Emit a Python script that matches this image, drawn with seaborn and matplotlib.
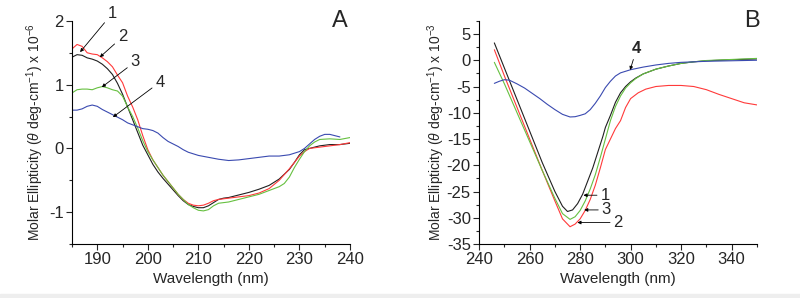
import numpy as np
import pandas as pd
import matplotlib.pyplot as plt
import seaborn as sns
from matplotlib.ticker import MultipleLocator

sns.set_style("ticks")
plt.rcParams['font.family'] = ['Liberation Sans', 'DejaVu Sans']
plt.rcParams['mathtext.fontset'] = 'custom'
plt.rcParams['mathtext.it'] = 'Liberation Sans:italic'
plt.rcParams['mathtext.rm'] = 'Liberation Sans'
plt.rcParams['axes.unicode_minus'] = False

# ---- panel A (far UV) ----
a_wl_1 = [185, 186, 187, 188, 189, 190, 191, 192, 193, 194, 195, 196, 197, 198, 199, 200, 201, 202, 203, 204,
          205, 206, 207, 208, 209, 210, 211, 212, 213, 214, 215, 216, 218, 220, 222, 224, 226, 228, 229, 230,
          231, 232, 234, 236, 238, 240]
a_val_1 = [1.43, 1.47, 1.46, 1.42, 1.40, 1.37, 1.32, 1.25, 1.16, 1.02, 0.85, 0.65, 0.45, 0.25, 0.05, -0.10, -0.25,
           -0.37, -0.47, -0.56, -0.65, -0.74, -0.82, -0.88, -0.91, -0.93, -0.93, -0.90, -0.85, -0.80, -0.78, -0.77,
           -0.73, -0.69, -0.64, -0.58, -0.48, -0.33, -0.22, -0.10, -0.02, 0.00, 0.04, 0.06, 0.06, 0.08]
a_wl_2 = [185, 186, 187, 188, 189, 190, 191, 192, 193, 194, 195, 196, 197, 198, 199, 200, 201, 202, 203, 204,
          205, 206, 207, 208, 209, 210, 211, 212, 213, 214, 215, 216, 218, 220, 222, 224, 226, 228, 230, 231,
          232, 234, 236, 238, 240]
a_val_2 = [1.56, 1.63, 1.60, 1.50, 1.48, 1.47, 1.42, 1.36, 1.28, 1.15, 1.03, 0.82, 0.65, 0.45, 0.20, -0.02, -0.18,
           -0.30, -0.42, -0.52, -0.62, -0.72, -0.80, -0.86, -0.89, -0.90, -0.89, -0.86, -0.82, -0.80, -0.79, -0.78,
           -0.76, -0.74, -0.70, -0.63, -0.50, -0.32, -0.12, -0.05, 0.00, 0.02, 0.04, 0.06, 0.09]
a_wl_3 = [185, 186, 187, 188, 189, 190, 191, 192, 193, 194, 195, 196, 197, 198, 199, 200, 201, 202, 203, 204,
          205, 206, 207, 208, 209, 210, 211, 212, 213, 214, 215, 216, 218, 220, 222, 224, 226, 227, 228, 229,
          230, 231, 232, 233, 234, 236, 238, 240]
a_val_3 = [0.87, 0.92, 0.93, 0.93, 0.92, 0.95, 0.97, 0.95, 0.92, 0.90, 0.82, 0.65, 0.50, 0.32, 0.12, -0.05, -0.18,
           -0.30, -0.42, -0.52, -0.62, -0.72, -0.80, -0.88, -0.93, -0.97, -0.98, -0.96, -0.90, -0.86, -0.85, -0.84,
           -0.80, -0.76, -0.72, -0.66, -0.60, -0.55, -0.45, -0.30, -0.17, -0.05, 0.04, 0.10, 0.14, 0.15, 0.14, 0.17]
a_wl_4 = [185, 186, 187, 188, 189, 190, 191, 192, 193, 194, 195, 196, 197, 198, 199, 200, 201, 202, 203, 204,
          205, 206, 207, 208, 210, 212, 214, 216, 218, 220, 222, 224, 226, 228, 230, 231, 232, 233, 234, 235,
          236, 237, 238]
a_val_4 = [0.60, 0.60, 0.62, 0.66, 0.68, 0.66, 0.61, 0.57, 0.53, 0.49, 0.45, 0.40, 0.37, 0.34, 0.31, 0.30, 0.28,
           0.24, 0.17, 0.11, 0.07, 0.03, -0.02, -0.06, -0.11, -0.14, -0.17, -0.19, -0.18, -0.16, -0.14, -0.12,
           -0.12, -0.10, -0.05, 0.00, 0.07, 0.14, 0.19, 0.22, 0.22, 0.20, 0.18]

# ---- panel B (near UV) ----
b_wl_1 = [246, 250, 255, 260, 265, 270, 273, 275, 277, 279, 281, 283, 285, 287, 289, 290, 292, 294, 296, 298,
          300, 302, 305, 310, 315, 320, 325, 330, 340, 350]
b_val_1 = [3.3, -1.5, -7.5, -13.5, -19.5, -25.0, -27.8, -28.8, -28.5, -27.3, -25.5, -23.0, -20.5, -17.5, -14.5,
           -12.8, -10.5, -8.0, -6.2, -5.0, -4.1, -3.4, -2.6, -1.7, -1.1, -0.6, -0.3, -0.1, 0.1, 0.25]
b_wl_2 = [246, 250, 255, 260, 265, 270, 273, 276, 278, 280, 282, 284, 286, 288, 290, 292, 294, 296, 298, 300,
          303, 306, 310, 315, 320, 325, 330, 335, 340, 345, 350]
b_val_2 = [2.0, -3.0, -9.0, -15.0, -21.0, -26.8, -30.2, -31.7, -31.2, -30.2, -28.6, -26.5, -23.8, -20.5, -17.0,
           -15.0, -13.0, -11.5, -9.0, -7.3, -6.2, -5.5, -5.0, -4.8, -4.8, -5.0, -5.6, -6.5, -7.3, -8.1, -8.5]
b_wl_3 = [246, 250, 255, 260, 265, 270, 273, 276, 278, 280, 282, 284, 286, 288, 290, 292, 294, 296, 298, 300,
          302, 305, 310, 315, 320, 325, 330, 340, 350]
b_val_3 = [-0.4, -4.5, -10.0, -15.5, -21.0, -26.3, -29.2, -30.3, -29.8, -28.6, -26.8, -24.5, -21.8, -18.5, -15.0,
           -11.5, -8.8, -6.8, -5.3, -4.3, -3.5, -2.6, -1.7, -1.1, -0.6, -0.3, -0.05, 0.15, 0.35]
b_wl_4 = [246, 248, 250, 252, 255, 258, 261, 264, 267, 270, 273, 276, 278, 280, 282, 284, 286, 288, 290, 292,
          294, 296, 298, 300, 305, 310, 315, 320, 330, 340, 350]
b_val_4 = [-4.4, -4.0, -3.7, -3.8, -4.5, -5.3, -6.3, -7.3, -8.4, -9.4, -10.3, -10.8, -10.75, -10.5, -10.2, -9.4,
           -8.2, -6.8, -5.2, -4.0, -3.0, -2.4, -2.1, -1.8, -1.3, -0.9, -0.6, -0.4, -0.2, -0.1, 0.0]

labels = ['1', '2', '3', '4']
colors = {'1': '#202020', '2': '#ff3a3a', '3': '#66c040', '4': '#3a4ab0'}


def long_df(wls, vals):
    parts = [pd.DataFrame({'wl': w, 'val': v, 'curve': lab}) for w, v, lab in zip(wls, vals, labels)]
    return pd.concat(parts, ignore_index=True)


df_a = long_df([a_wl_1, a_wl_2, a_wl_3, a_wl_4], [a_val_1, a_val_2, a_val_3, a_val_4])
df_b = long_df([b_wl_1, b_wl_2, b_wl_3, b_wl_4], [b_val_1, b_val_2, b_val_3, b_val_4])

fig = plt.figure(figsize=(8, 2.98), dpi=100)
ax_a = fig.add_axes([0.09, 0.181, 0.3475, 0.749])
ax_b = fig.add_axes([0.599, 0.181, 0.347, 0.749])

for ax, d in [(ax_a, df_a), (ax_b, df_b)]:
    sns.lineplot(data=d, x='wl', y='val', hue='curve', palette=colors, estimator=None,
                 sort=True, lw=0.8, legend=False, ax=ax)
    sns.despine(ax=ax)
    ax.tick_params(which='major', direction='out', length=4, width=0.8, labelsize=12, pad=2)
    ax.tick_params(which='minor', direction='out', length=2.5, width=0.8)
    for s in ['left', 'bottom']:
        ax.spines[s].set_linewidth(0.8)
        ax.spines[s].set_color('black')
    ax.set_xlabel('Wavelength (nm)', fontsize=11, labelpad=3)

ax_a.set_xlim(185, 240)
ax_a.set_ylim(-1.5, 2)
ax_a.xaxis.set_major_locator(MultipleLocator(10))
ax_a.xaxis.set_minor_locator(MultipleLocator(5))
ax_a.yaxis.set_major_locator(MultipleLocator(1))
ax_a.yaxis.set_minor_locator(MultipleLocator(0.5))
ax_a.set_ylabel(r'Molar Ellipticity ($\theta$ deg-cm$^{-1}$) x 10$^{-6}$', fontsize=10)
ax_a.yaxis.set_label_coords(-0.092, 0.5)

ax_b.set_xlim(240, 350)
ax_b.set_ylim(-35, 7.5)
ax_b.xaxis.set_major_locator(MultipleLocator(20))
ax_b.xaxis.set_minor_locator(MultipleLocator(10))
ax_b.yaxis.set_major_locator(MultipleLocator(5))
ax_b.yaxis.set_minor_locator(MultipleLocator(2.5))
ax_b.set_ylabel(r'Molar Ellipticity ($\theta$ deg-cm$^{-1}$) x 10$^{-3}$', fontsize=10)
ax_b.yaxis.set_label_coords(-0.116, 0.5)

arrow = dict(arrowstyle='-|>', color='black', lw=0.6, mutation_scale=5, shrinkA=0, shrinkB=0)

# annotations A: (label, tip, text position)
ann_a = [('1', (186.6, 1.51), (193.0, 2.12)),
         ('2', (190.5, 1.43), (195.0, 1.75)),
         ('3', (190.9, 0.96), (197.5, 1.36)),
         ('4', (193.1, 0.49), (202.4, 1.04))]
for lab, tip, txt in ann_a:
    ax_a.annotate(lab, xy=tip, xytext=txt, fontsize=12, ha='center', va='center',
                  arrowprops=arrow, annotation_clip=False)

ann_b = [('1', (281.3, -25.7), (289.8, -25.7)),
         ('3', (281.6, -28.5), (290.3, -28.5)),
         ('2', (278.9, -30.9), (295.0, -30.9))]
for lab, tip, txt in ann_b:
    ax_b.annotate(lab, xy=tip, xytext=txt, fontsize=12, ha='center', va='center',
                  arrowprops=arrow, annotation_clip=False)
ax_b.annotate('4', xy=(299.8, -1.86), xytext=(302.4, 2.2), fontsize=12, fontweight='bold',
              ha='center', va='center', arrowprops=arrow, annotation_clip=False)

fig.text(0.425, 0.93, 'A', fontsize=17, ha='center', va='center')
fig.text(0.94, 0.93, 'B', fontsize=17, ha='center', va='center')

fig.patches.append(plt.Rectangle((0, 0), 1, 0.012, transform=fig.transFigure,
                                 color='#eeeeee', zorder=-1))

fig.savefig('out.png', dpi=100)
